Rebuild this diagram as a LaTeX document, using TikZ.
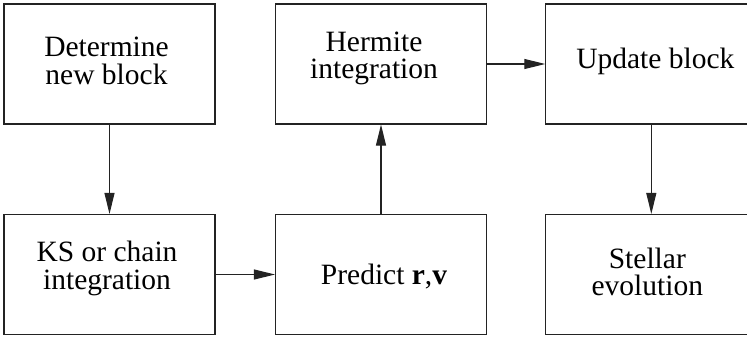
\documentclass[tikz,border=0pt]{standalone}
\usepackage{fontspec}
\setmainfont{Liberation Serif}
\usepackage{tikz}
\usetikzlibrary{arrows.meta}
\definecolor{cline}{RGB}{35,35,35}

\begin{document}
\begin{tikzpicture}[
  x=0.5pt,y=-0.5pt,
  >={Triangle[length=10.5pt,width=5pt]},
  blk/.style={draw=cline,line width=0.55pt,minimum width=105.5pt,minimum height=60pt,inner sep=0pt},
  txt/.style={font=\fontsize{14.75pt}{13.75pt}\selectfont,align=center,inner sep=0pt},
  link/.style={draw=cline,->,line width=0.55pt},
]
\clip (0,0) rectangle (747,337);

% ===== TOP ROW =====
\node[blk] (newblk) at (109.5,64) {};
\node[blk] (hermite) at (381,64) {};
\node[blk] (update) at (651.3,64) {};
\node[txt] (newblktxt) at (106.5,61) {Determine\\new block};
\node[txt] (hermitetxt) at (374,58.5) {Hermite\\integration};
\node[txt] (updatetxt) at (655.3,61) {Update block};

% ===== BOTTOM ROW =====
\node[blk] (kschain) at (109.5,274.5) {};
\node[blk] (predict) at (381,274.5) {};
\node[blk] (stellar) at (651.3,274.5) {};
\node[txt] (kschaintxt) at (107,268.5) {KS or chain\\integration};
\node[txt] (predicttxt) at (384,277) {Predict \textbf{r},\textbf{v}};
\node[txt] (stellartxt) at (647.3,272) {Stellar\\evolution};

% ===== arrows =====
\draw[link] (newblk.south)--(kschain.north);
\draw[link] (kschain.east)--(predict.west);
\draw[link] (predict.north)--(hermite.south);
\draw[link] (hermite.east)--(update.west);
\draw[link] (update.south)--(stellar.north);

\end{tikzpicture}
\end{document}
